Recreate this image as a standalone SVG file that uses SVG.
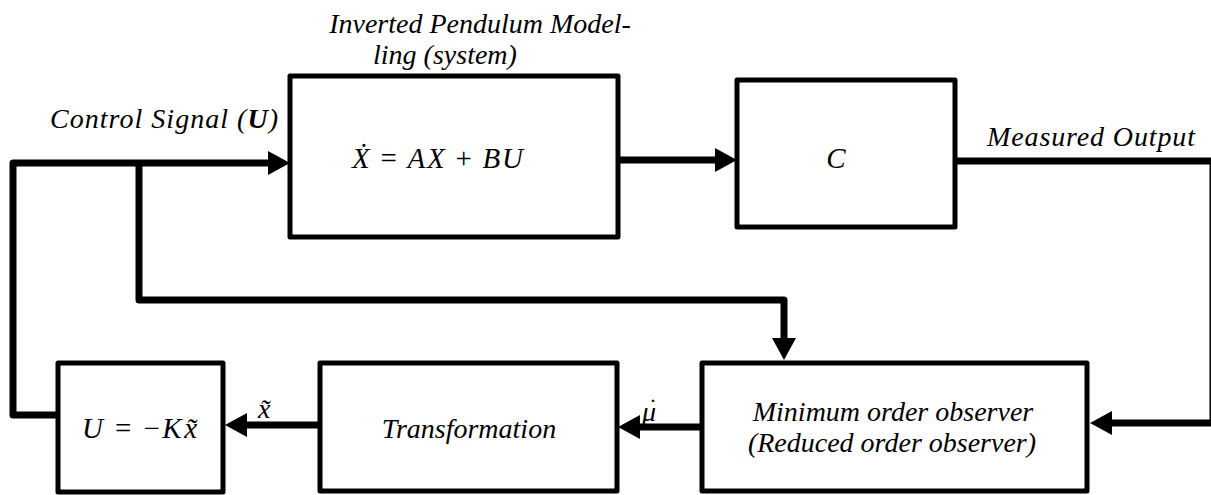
<svg xmlns="http://www.w3.org/2000/svg" width="1211" height="495" viewBox="0 0 1211 495" font-family="Liberation Serif, serif">
<style>
.box{fill:#fff;stroke:#000;stroke-width:5;stroke-linejoin:round}
.wire{fill:none;stroke:#000;stroke-width:7;stroke-linejoin:round}
</style>
<defs>
<marker id="ah" markerUnits="userSpaceOnUse" markerWidth="24" markerHeight="26" refX="0" refY="12" orient="auto">
<path d="M0,0 L22,12 L0,24 Z" fill="#000"/>
</marker>
</defs>
<g id="connectors">
<path class="wire" d="M58,415 H13 V163 H268" marker-end="url(#ah)"/>
<path class="wire" d="M139,163 V300 H784 V338" marker-end="url(#ah)"/>
<path class="wire" d="M618,160 H715" marker-end="url(#ah)"/>
<path class="wire" d="M955,161 H1213 V423 H1112" marker-end="url(#ah)"/>
<path class="wire" d="M702,427 H640" marker-end="url(#ah)"/>
<path class="wire" d="M320,425 H247" marker-end="url(#ah)"/>
<text x="258" y="418" font-size="28" font-family="Liberation Serif, serif" font-style="italic">x&#771;</text>
<text x="642" y="421" font-size="28" font-family="Liberation Serif, serif" font-style="italic">&#956;</text>
<text x="649" y="415" font-size="24" font-family="Liberation Serif, serif">&#729;</text>
<text x="50" y="128" font-size="28" textLength="228" font-family="Liberation Serif, serif" font-style="italic">Control Signal (<tspan font-weight="bold">U</tspan>)</text>
<text x="987" y="146" font-size="28" textLength="208" font-family="Liberation Serif, serif" font-style="italic">Measured Output</text>
</g>
<g id="plant">
<rect class="box" x="290" y="76" width="328" height="161"/>
<text x="480" y="33" font-size="28" text-anchor="middle" font-family="Liberation Serif, serif" font-style="italic">Inverted Pendulum Model-</text>
<text x="445" y="64" font-size="28" text-anchor="middle" font-family="Liberation Serif, serif" font-style="italic">ling (system)</text>
<text x="352" y="168" font-size="29" textLength="171" font-family="Liberation Serif, serif"><tspan font-style="italic">&#7818;</tspan> = <tspan font-style="italic">AX</tspan> + <tspan font-style="italic">BU</tspan></text>
</g>
<g id="output-matrix">
<rect class="box" x="737" y="80" width="218" height="147"/>
<text x="836" y="168" font-size="29" text-anchor="middle" font-family="Liberation Serif, serif" font-style="italic">C</text>
</g>
<g id="gain">
<rect class="box" x="58" y="363" width="165" height="129"/>
<text x="82" y="438" font-size="29" textLength="115" font-family="Liberation Serif, serif"><tspan font-style="italic">U</tspan> = &#8722;<tspan font-style="italic">Kx&#771;</tspan></text>
</g>
<g id="transformation">
<rect class="box" x="320" y="363" width="297" height="128"/>
<text x="469" y="438" font-size="28" text-anchor="middle" font-family="Liberation Serif, serif" font-style="italic">Transformation</text>
</g>
<g id="observer">
<rect class="box" x="702" y="363" width="385" height="128"/>
<text x="893" y="421" font-size="28" text-anchor="middle" font-family="Liberation Serif, serif" font-style="italic">Minimum order observer</text>
<text x="892" y="452" font-size="28" text-anchor="middle" font-family="Liberation Serif, serif" font-style="italic">(Reduced order observer)</text>
</g>
</svg>
